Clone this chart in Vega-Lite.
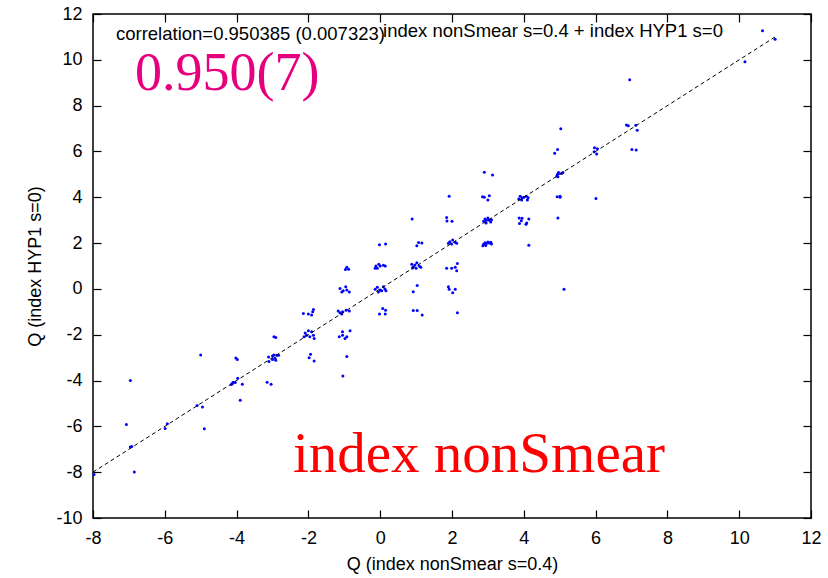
{
  "$schema": "https://vega.github.io/schema/vega-lite/v6.json",
  "autosize": "none",
  "width": 718,
  "height": 504,
  "padding": {"left": 93, "top": 14, "right": 17, "bottom": 60},
  "background": "white",
  "config": {
    "view": {"stroke": "#000000", "strokeWidth": 1.5},
    "font": "Liberation Sans",
    "axis": {"grid": false, "domain": false, "tickColor": "#000000", "tickSize": -8, "tickWidth": 1.2, "labelColor": "#000000", "labelFont": "Liberation Sans", "labelFontSize": 18, "titleFont": "Liberation Sans", "titleFontSize": 18, "titleFontWeight": "normal", "titleColor": "#000000", "labelExpr": "datum.value < 0 ? '-' + abs(datum.value) : '' + datum.value"}
  },
  "datasets": {
    "pts": [
      {"x": -7.97, "y": -8.1}, {"x": -6.96, "y": -4.0}, {"x": -7.07, "y": -5.92}, {"x": -6.96, "y": -6.9}, {"x": -6.92, "y": -6.88}, {"x": -6.85, "y": -7.99},
      {"x": -5.99, "y": -6.09}, {"x": -5.93, "y": -5.89}, {"x": -5.0, "y": -2.88}, {"x": -5.1, "y": -5.09}, {"x": -4.95, "y": -5.16}, {"x": -4.9, "y": -6.1},
      {"x": -4.02, "y": -3.02}, {"x": -3.98, "y": -3.08},
      {"x": -4.1, "y": -4.07}, {"x": -4.12, "y": -4.14}, {"x": -4.04, "y": -4.08}, {"x": -3.97, "y": -3.9}, {"x": -3.84, "y": -4.16}, {"x": -4.15, "y": -4.17},
      {"x": -3.9, "y": -4.86}, {"x": -3.15, "y": -4.07}, {"x": -3.04, "y": -4.16},
      {"x": -3.11, "y": -2.97}, {"x": -3.0, "y": -2.93}, {"x": -2.96, "y": -2.88}, {"x": -2.88, "y": -2.9}, {"x": -2.83, "y": -2.9}, {"x": -2.93, "y": -3.03}, {"x": -3.0, "y": -3.08}, {"x": -2.91, "y": -3.11}, {"x": -3.1, "y": -3.17},
      {"x": -2.96, "y": -2.09}, {"x": -2.91, "y": -2.12},
      {"x": -1.98, "y": -3.0}, {"x": -1.94, "y": -2.85}, {"x": -1.84, "y": -3.15},
      {"x": -2.09, "y": -1.92}, {"x": -2.0, "y": -1.83}, {"x": -1.91, "y": -1.87}, {"x": -1.86, "y": -2.02}, {"x": -1.96, "y": -2.09}, {"x": -1.84, "y": -2.16}, {"x": -2.12, "y": -2.09}, {"x": -2.05, "y": -2.02},
      {"x": -2.14, "y": -1.07}, {"x": -2.0, "y": -1.1}, {"x": -1.91, "y": -1.14}, {"x": -1.86, "y": -0.9}, {"x": -1.88, "y": -1.0},
      {"x": -0.93, "y": -2.95}, {"x": -1.04, "y": -3.8},
      {"x": -1.14, "y": -2.09}, {"x": -1.05, "y": -1.87}, {"x": -0.98, "y": -2.16}, {"x": -0.93, "y": -2.09}, {"x": -0.84, "y": -1.83}, {"x": -1.05, "y": -2.02},
      {"x": -1.17, "y": -0.96}, {"x": -1.12, "y": -1.04}, {"x": -1.05, "y": -1.0}, {"x": -0.95, "y": -0.93}, {"x": -0.86, "y": -0.96}, {"x": -1.07, "y": -1.1},
      {"x": -1.12, "y": 0.02}, {"x": -1.07, "y": -0.13}, {"x": -1.03, "y": -0.08}, {"x": -0.93, "y": -0.05}, {"x": -0.86, "y": -0.13}, {"x": -0.96, "y": 0.09},
      {"x": -0.93, "y": 0.95}, {"x": -0.97, "y": 0.85}, {"x": -0.88, "y": 0.86},
      {"x": -0.02, "y": 1.93}, {"x": 0.15, "y": 1.96},
      {"x": -0.12, "y": 1.0}, {"x": -0.08, "y": 0.9}, {"x": 0.0, "y": 1.0}, {"x": 0.09, "y": 1.03}, {"x": 0.14, "y": 1.0}, {"x": -0.14, "y": 0.9}, {"x": -0.04, "y": 1.08},
      {"x": -0.14, "y": -0.02}, {"x": -0.08, "y": 0.07}, {"x": 0.0, "y": -0.05}, {"x": 0.09, "y": 0.09}, {"x": 0.13, "y": 0.0}, {"x": 0.16, "y": -0.08}, {"x": -0.05, "y": -0.13}, {"x": 0.04, "y": -0.08},
      {"x": -0.02, "y": -1.1}, {"x": 0.07, "y": -0.85}, {"x": 0.15, "y": -0.93}, {"x": 0.14, "y": -1.1},
      {"x": 0.89, "y": 3.05}, {"x": 1.02, "y": 1.88}, {"x": 1.07, "y": 2.03}, {"x": 1.16, "y": 2.0},
      {"x": 0.88, "y": 1.08}, {"x": 0.92, "y": 0.97}, {"x": 0.97, "y": 1.04}, {"x": 1.02, "y": 1.14}, {"x": 1.09, "y": 1.0}, {"x": 1.13, "y": 0.94}, {"x": 1.0, "y": 0.9}, {"x": 0.9, "y": 0.91},
      {"x": 0.92, "y": -0.12}, {"x": 1.03, "y": 0.15},
      {"x": 0.92, "y": -0.94}, {"x": 1.03, "y": -0.94}, {"x": 1.17, "y": -1.14},
      {"x": 1.92, "y": 4.05}, {"x": 1.85, "y": 3.12}, {"x": 1.86, "y": 2.96}, {"x": 2.0, "y": 2.95},
      {"x": 1.94, "y": 2.06}, {"x": 2.02, "y": 2.13}, {"x": 2.09, "y": 2.04}, {"x": 2.13, "y": 1.99}, {"x": 1.9, "y": 1.99}, {"x": 1.99, "y": 1.96},
      {"x": 1.85, "y": 0.9}, {"x": 1.99, "y": 0.9}, {"x": 2.09, "y": 0.94}, {"x": 2.15, "y": 1.11}, {"x": 2.13, "y": 0.79},
      {"x": 1.9, "y": 0.09}, {"x": 1.92, "y": -0.02}, {"x": 2.02, "y": -0.17}, {"x": 2.09, "y": -0.02},
      {"x": 2.15, "y": -1.04},
      {"x": 2.9, "y": 5.09}, {"x": 3.13, "y": 4.97},
      {"x": 2.85, "y": 4.02}, {"x": 3.04, "y": 4.07}, {"x": 3.0, "y": 3.88}, {"x": 2.9, "y": 4.0},
      {"x": 2.88, "y": 2.95}, {"x": 2.92, "y": 3.05}, {"x": 2.96, "y": 3.0}, {"x": 3.0, "y": 3.1}, {"x": 3.04, "y": 3.0}, {"x": 3.08, "y": 2.92}, {"x": 2.95, "y": 2.88}, {"x": 3.1, "y": 3.02},
      {"x": 2.88, "y": 1.95}, {"x": 2.92, "y": 2.02}, {"x": 2.96, "y": 1.98}, {"x": 3.0, "y": 2.05}, {"x": 3.04, "y": 2.0}, {"x": 3.08, "y": 2.04}, {"x": 2.94, "y": 1.9}, {"x": 3.1, "y": 1.96}, {"x": 2.86, "y": 1.88},
      {"x": 3.9, "y": 4.05}, {"x": 3.95, "y": 3.97}, {"x": 4.0, "y": 4.0}, {"x": 4.07, "y": 4.05}, {"x": 3.86, "y": 3.92}, {"x": 3.94, "y": 3.88}, {"x": 4.1, "y": 3.88}, {"x": 4.12, "y": 3.98},
      {"x": 3.87, "y": 3.1}, {"x": 3.95, "y": 3.08}, {"x": 4.14, "y": 3.05}, {"x": 3.93, "y": 2.98}, {"x": 3.88, "y": 2.85}, {"x": 4.06, "y": 2.82}, {"x": 4.08, "y": 2.88},
      {"x": 4.14, "y": 1.91},
      {"x": 5.03, "y": 6.99}, {"x": 4.86, "y": 5.92}, {"x": 4.94, "y": 6.09},
      {"x": 4.94, "y": 5.0}, {"x": 4.97, "y": 5.08}, {"x": 4.92, "y": 4.93}, {"x": 5.05, "y": 5.04}, {"x": 5.09, "y": 5.08}, {"x": 4.95, "y": 4.9},
      {"x": 4.93, "y": 4.02}, {"x": 5.01, "y": 4.05}, {"x": 5.01, "y": 4.0}, {"x": 4.95, "y": 3.1}, {"x": 5.12, "y": -0.01},
      {"x": 5.97, "y": 6.16}, {"x": 6.05, "y": 6.12}, {"x": 5.96, "y": 5.99}, {"x": 6.03, "y": 5.89}, {"x": 6.01, "y": 3.95},
      {"x": 6.95, "y": 9.13}, {"x": 6.86, "y": 7.15}, {"x": 6.91, "y": 7.12}, {"x": 7.12, "y": 7.14}, {"x": 7.16, "y": 6.93},
      {"x": 7.01, "y": 6.09}, {"x": 7.13, "y": 6.06},
      {"x": 10.16, "y": 9.92}, {"x": 10.65, "y": 11.27}, {"x": 11.0, "y": 10.9}
    ],
    "fit": [{"x": -8, "y": -8}, {"x": 11, "y": 11}],
    "labels": [
      {"x": -7.36, "y": 10.86, "t": "correlation=0.950385 (0.007323)"},
      {"x": 0.08, "y": 10.98, "t": "index nonSmear s=0.4 + index HYP1 s=0"}
    ],
    "big1": [{"x": -6.83, "y": 8.68, "t": "0.950(7)"}],
    "big2": [{"x": -2.43, "y": -8.0, "t": "index nonSmear"}]
  },
  "resolve": {"axis": {"x": "independent", "y": "independent"}},
  "layer": [
    {
      "data": {"name": "pts"},
      "mark": {"type": "circle", "size": 9, "color": "#0000ff", "opacity": 1},
      "encoding": {
        "x": {"field": "x", "type": "quantitative", "scale": {"domain": [-8, 12], "nice": false, "zero": false},
              "axis": {"orient": "bottom", "values": [-8, -6, -4, -2, 0, 2, 4, 6, 8, 10, 12], "title": "Q (index nonSmear s=0.4)", "labelPadding": 19, "titlePadding": 8, "labelFlush": false}},
        "y": {"field": "y", "type": "quantitative", "scale": {"domain": [-10, 12], "nice": false, "zero": false},
              "axis": {"orient": "left", "values": [-10, -8, -6, -4, -2, 0, 2, 4, 6, 8, 10, 12], "title": "Q (index HYP1 s=0)", "labelPadding": 19, "titlePadding": 11, "labelFlush": false}}
      }
    },
    {
      "data": {"name": "fit"},
      "mark": {"type": "line", "color": "#000000", "strokeWidth": 1, "strokeDash": [4, 3]},
      "encoding": {
        "x": {"field": "x", "type": "quantitative", "axis": {"orient": "top", "values": [-8, -6, -4, -2, 0, 2, 4, 6, 8, 10, 12], "labels": false, "title": null}},
        "y": {"field": "y", "type": "quantitative", "axis": {"orient": "right", "values": [-10, -8, -6, -4, -2, 0, 2, 4, 6, 8, 10, 12], "labels": false, "title": null}}
      }
    },
    {
      "data": {"name": "labels"},
      "mark": {"type": "text", "align": "left", "baseline": "alphabetic", "fontSize": 18.5, "font": "Liberation Sans", "color": "#000000"},
      "encoding": {
        "x": {"field": "x", "type": "quantitative", "axis": null},
        "y": {"field": "y", "type": "quantitative", "axis": null},
        "text": {"field": "t"}
      }
    },
    {
      "data": {"name": "big1"},
      "mark": {"type": "text", "align": "left", "baseline": "alphabetic", "fontSize": 54, "font": "Liberation Serif", "color": "#e6007e"},
      "encoding": {
        "x": {"field": "x", "type": "quantitative", "axis": null},
        "y": {"field": "y", "type": "quantitative", "axis": null},
        "text": {"field": "t"}
      }
    },
    {
      "data": {"name": "big2"},
      "mark": {"type": "text", "align": "left", "baseline": "alphabetic", "fontSize": 57, "font": "Liberation Serif", "color": "#ff0000"},
      "encoding": {
        "x": {"field": "x", "type": "quantitative", "axis": null},
        "y": {"field": "y", "type": "quantitative", "axis": null},
        "text": {"field": "t"}
      }
    }
  ]
}
